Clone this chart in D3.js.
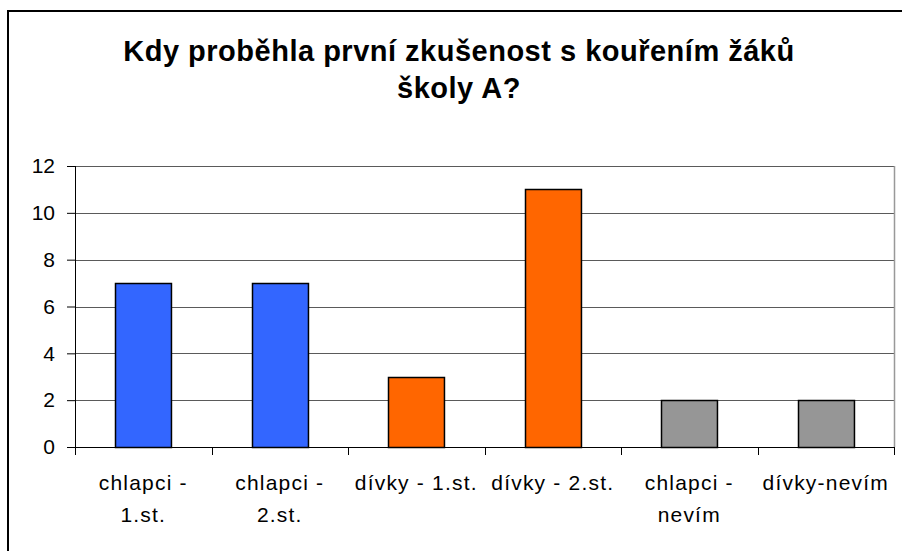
<!DOCTYPE html>
<html>
<head>
<meta charset="utf-8">
<script src="https://cdn.jsdelivr.net/npm/d3@7"></script>
<style>
  body { margin: 0; background: white; }
  text { font-family: "Liberation Sans", Arial, sans-serif; }
</style>
</head>
<body>
<div id="chart"></div>
<script>
const categories = [
  ['chlapci -', '1.st.'],
  ['chlapci -', '2.st.'],
  ['dívky - 1.st.'],
  ['dívky - 2.st.'],
  ['chlapci -', 'nevím'],
  ['dívky-nevím']
];
const values = [7, 7, 3, 11, 2, 2];
const barColors = ['#3366FF', '#3366FF', '#FF6600', '#FF6600', '#969696', '#969696'];
const yTicks = [0, 2, 4, 6, 8, 10, 12];
const titleLines = ['Kdy proběhla první zkušenost s kouřením žáků', 'školy A?'];

const width = 902;
const height = 551;
const margin = {top: 166, right: 8, bottom: 104, left: 75};

const svg = d3.select('#chart')
  .append('svg')
  .attr('width', width)
  .attr('height', height);

// outer frame (runs off the right and bottom edge)
svg.append('rect')
  .attr('x', 8)
  .attr('y', 11)
  .attr('width', width + 20)
  .attr('height', height + 20)
  .attr('fill', 'white')
  .attr('stroke', 'black')
  .attr('stroke-width', 2);

svg.selectAll('.title')
  .data(titleLines)
  .join('text')
  .attr('class', 'title')
  .attr('x', 459)
  .attr('y', (d, i) => 61 + i * 37)
  .attr('text-anchor', 'middle')
  .style('font-size', '29px')
  .style('font-weight', 'bold')
  .style('letter-spacing', '0.5px')
  .text(d => d);

const plotW = width - margin.left - margin.right;
const plotH = height - margin.top - margin.bottom;

const xScale = d3.scaleBand()
  .domain(d3.range(categories.length))
  .range([0, plotW])
  .paddingInner(0.59)
  .paddingOuter(0.295);

const xOuter = d3.scaleBand()
  .domain(d3.range(categories.length))
  .range([0, plotW]);

const yScale = d3.scaleLinear()
  .domain([0, 12])
  .range([plotH, 0]);

const g = svg.append('g')
  .attr('transform', `translate(${margin.left}, ${margin.top})`);

// gridlines
g.append('g')
  .selectAll('line')
  .data(yTicks.filter(d => d > 0))
  .join('line')
  .attr('x1', 0)
  .attr('x2', plotW)
  .attr('y1', d => Math.round(yScale(d)) + 0.5)
  .attr('y2', d => Math.round(yScale(d)) + 0.5)
  .attr('stroke', '#5a5a5a')
  .attr('stroke-width', 1);

// right plot border
g.append('line')
  .attr('x1', plotW + 0.5)
  .attr('x2', plotW + 0.5)
  .attr('y1', Math.round(yScale(12)))
  .attr('y2', plotH)
  .attr('stroke', '#999')
  .attr('stroke-width', 1.5);

// bars
g.append('g')
  .selectAll('rect')
  .data(values)
  .join('rect')
  .attr('x', (d, i) => Math.round(xScale(i)) + 0.5)
  .attr('y', d => Math.round(yScale(d)) + 0.5)
  .attr('width', xScale.bandwidth())
  .attr('height', d => plotH - Math.round(yScale(d)))
  .attr('fill', (d, i) => barColors[i])
  .attr('stroke', 'black')
  .attr('stroke-width', 1.5);

// y axis
const yAxis = g.append('g')
  .call(d3.axisLeft(yScale).tickValues(yTicks).tickSize(8).tickPadding(12));
yAxis.select('.domain').attr('d', `M0.5,0V${plotH}`).attr('stroke', 'black');
yAxis.selectAll('.tick line').attr('stroke', 'black');
yAxis.selectAll('text')
  .style('font-size', '21px')
  .style('font-family', '"Liberation Sans", Arial, sans-serif')
  .attr('fill', 'black');

// x axis
const xAxisG = g.append('g')
  .attr('transform', `translate(0, ${plotH})`);
xAxisG.append('line')
  .attr('x1', 0)
  .attr('x2', plotW)
  .attr('y1', 0.5)
  .attr('y2', 0.5)
  .attr('stroke', 'black');
xAxisG.selectAll('.xtick')
  .data(d3.range(categories.length + 1))
  .join('line')
  .attr('class', 'xtick')
  .attr('x1', i => Math.round(i * xOuter.step()) + 0.5)
  .attr('x2', i => Math.round(i * xOuter.step()) + 0.5)
  .attr('y1', 0)
  .attr('y2', 8)
  .attr('stroke', 'black');

const labels = xAxisG.selectAll('.xlabel')
  .data(categories)
  .join('text')
  .attr('class', 'xlabel')
  .attr('text-anchor', 'middle')
  .attr('transform', (d, i) => `translate(${xOuter(i) + xOuter.bandwidth() / 2}, 43)`)
  .style('font-size', '21px')
  .style('letter-spacing', '1.2px')
  .attr('fill', 'black');

labels.selectAll('tspan')
  .data(d => d)
  .join('tspan')
  .attr('x', 0)
  .attr('dy', (d, i) => i === 0 ? 0 : 32)
  .text(d => d);
</script>
</body>
</html>
